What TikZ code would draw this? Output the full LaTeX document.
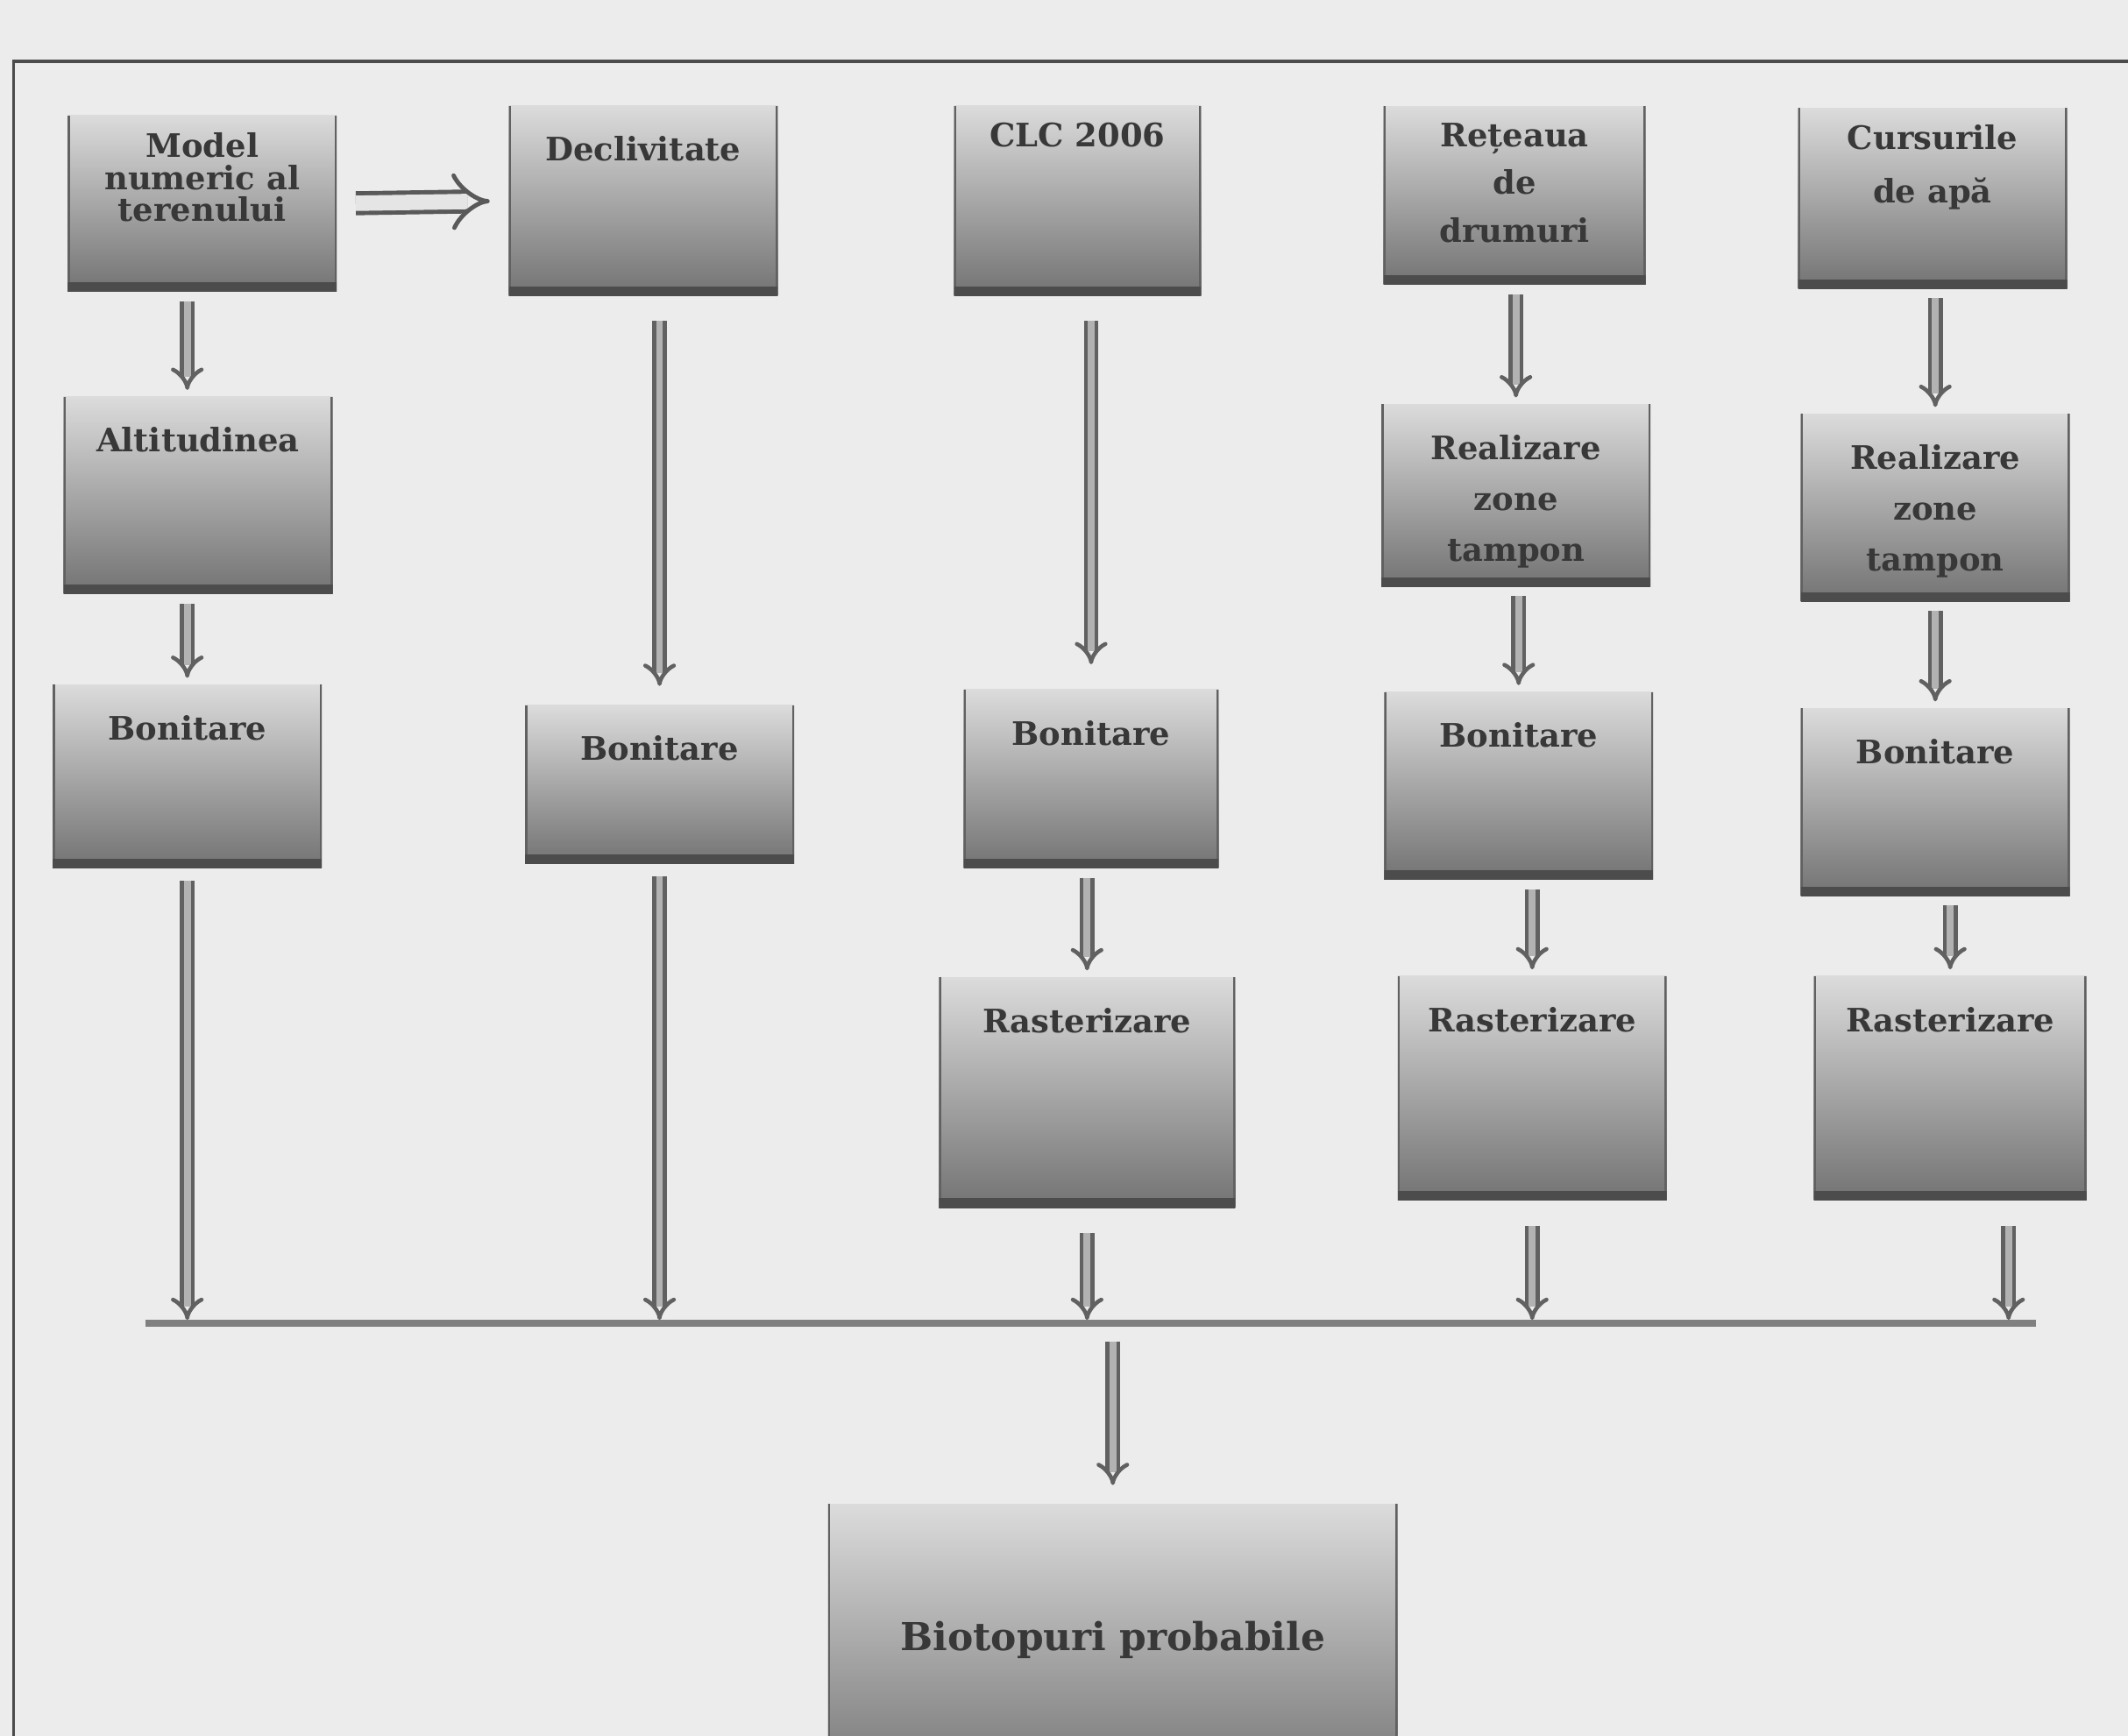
\documentclass[tikz,border=0pt]{standalone}
\usepackage{fontspec}
\setmainfont{DejaVu Serif}
\usetikzlibrary{arrows.meta,calc}
\definecolor{paper}{HTML}{ECECEC}
\definecolor{ink}{HTML}{383838}
\colorlet{boxtop}{black!14}
\colorlet{boxbot}{black!55}
\colorlet{edge}{black!62}
\tikzset{
  boxfill/.style={rectangle, top color=boxtop, bottom color=boxbot, draw=none, inner sep=0pt,
    minimum width=3.07cm, minimum height=2.1cm,
    path picture={
      \draw[edge, line width=1.4pt] (path picture bounding box.north west) -- (path picture bounding box.south west);
      \draw[edge, line width=1.4pt] (path picture bounding box.north east) -- (path picture bounding box.south east);
      \draw[black!70, line width=6pt] (path picture bounding box.south west) -- (path picture bounding box.south east);
    }},
  ttl/.style={anchor=north, yshift=-10pt, inner sep=0pt, align=center, font=\fontsize{10.5}{10.5}\selectfont\bfseries, text=ink},
  box/.style={boxfill, label={[ttl]north:{#1}}},
  hbox/.style={boxfill, label={[ttl, yshift=4.5pt]north:{#1}}},
  flow/.style={draw=black!62, line width=1.3pt, double=black!30, double distance=2.2pt, -{Implies}, shorten >=2pt, shorten <=3pt},
  wide/.style={draw=black!65, line width=1.4pt, double=black!10, double distance=5pt, -{Implies}, shorten >=6pt, shorten <=6pt},
  bar/.style={draw=black!50, line width=2.2pt},
}
\begin{document}
\begin{tikzpicture}[x=0.015485cm, y=-0.015485cm]
\clip (0,0) rectangle (1568,1279);
\fill[paper] (0,0) rectangle (1568,1279);
\draw[black!70, line width=1.1pt] (10,45) rectangle (1600,1320);

% sources
\node[hbox={Model\\numeric al\\terenului}, minimum width=3.07cm, minimum height=2.01cm] (mnt) at (149,150) {};
\node[box=Declivitate, minimum height=2.17cm] (decl) at (474,148) {};
\node[hbox={CLC 2006}, minimum width=2.82cm, minimum height=2.17cm] (clc) at (794,148) {};
\node[hbox={Rețeaua\\[5pt]de\\[5pt]drumuri}, minimum width=2.99cm, minimum height=2.04cm] (drum) at (1116,144) {};
\node[hbox={Cursurile\\[7pt]de apă}, minimum height=2.06cm] (apa) at (1424,146) {};

% intermediate
\node[box=Altitudinea, minimum height=2.25cm] (alt) at (146,365) {};
\node[box={Realizare\\[6pt]zone\\[6pt]tampon}, minimum height=2.08cm] (tmp4) at (1117,365) {};
\node[box={Realizare\\[6pt]zone\\[6pt]tampon}, minimum height=2.14cm] (tmp5) at (1426,374) {};

% bonitare
\node[box=Bonitare, minimum height=2.09cm] (bon1) at (138,572) {};
\node[box=Bonitare, minimum height=1.81cm] (bon2) at (486,578) {};
\node[box=Bonitare, minimum width=2.91cm, minimum height=2.04cm] (bon3) at (804,574) {};
\node[box=Bonitare, minimum height=2.14cm] (bon4) at (1119,579) {};
\node[box=Bonitare, minimum height=2.14cm] (bon5) at (1426,591) {};

% rasterizare
\node[box=Rasterizare, minimum width=3.38cm, minimum height=2.63cm] (ras3) at (801,805) {};
\node[box=Rasterizare, minimum height=2.56cm] (ras4) at (1129,802) {};
\node[box=Rasterizare, minimum width=3.11cm, minimum height=2.56cm] (ras5) at (1437,802) {};

% result
\node[boxfill, minimum width=6.5cm, minimum height=3.3cm,
  label={[ttl, yshift=-28pt, font=\fontsize{12.5}{12.5}\selectfont\bfseries]north:{Biotopuri probabile}}] (bio) at (820,1215) {};

\coordinate (barL) at (107,975);
\coordinate (barR) at (1500,975);
\coordinate (j5) at (1480,975);
\draw[bar] (barL) -- (barR);

\draw[wide] (mnt.east) -- (decl.west);
\draw[flow] (mnt.south -| bon1) -- (alt.north -| bon1);
\draw[flow] (alt.south -| bon1) -- (bon1.north);
\draw[flow, shorten <=8pt, shorten >=6pt] (decl.south -| bon2) -- (bon2.north);
\draw[flow, shorten <=8pt, shorten >=8pt] (clc.south -| bon3) -- (bon3.north);
\draw[flow] (drum.south -| tmp4) -- (tmp4.north);
\draw[flow] (apa.south -| tmp5) -- (tmp5.north);
\draw[flow] (tmp4.south -| bon4) -- (bon4.north);
\draw[flow] (tmp5.south -| bon5) -- (bon5.north);
\draw[flow] (bon3.south -| ras3) -- (ras3.north);
\draw[flow] (bon4.south -| ras4) -- (ras4.north);
\draw[flow] (bon5.south -| ras5) -- (ras5.north);
\draw[flow, shorten <=4pt, shorten >=1pt] (bon1.south) -- (bon1 |- barL);
\draw[flow, shorten <=4pt, shorten >=1pt] (bon2.south) -- (bon2 |- barL);
\draw[flow, shorten <=8pt, shorten >=1pt] (ras3.south) -- (ras3 |- barL);
\draw[flow, shorten <=8pt, shorten >=1pt] (ras4.south) -- (ras4 |- barL);
\draw[flow, shorten <=8pt, shorten >=1pt] (ras5.south -| j5) -- (j5);
\draw[flow, shorten <=6pt, shorten >=6pt] (bio.north |- barL) -- (bio.north);
\end{tikzpicture}
\end{document}
